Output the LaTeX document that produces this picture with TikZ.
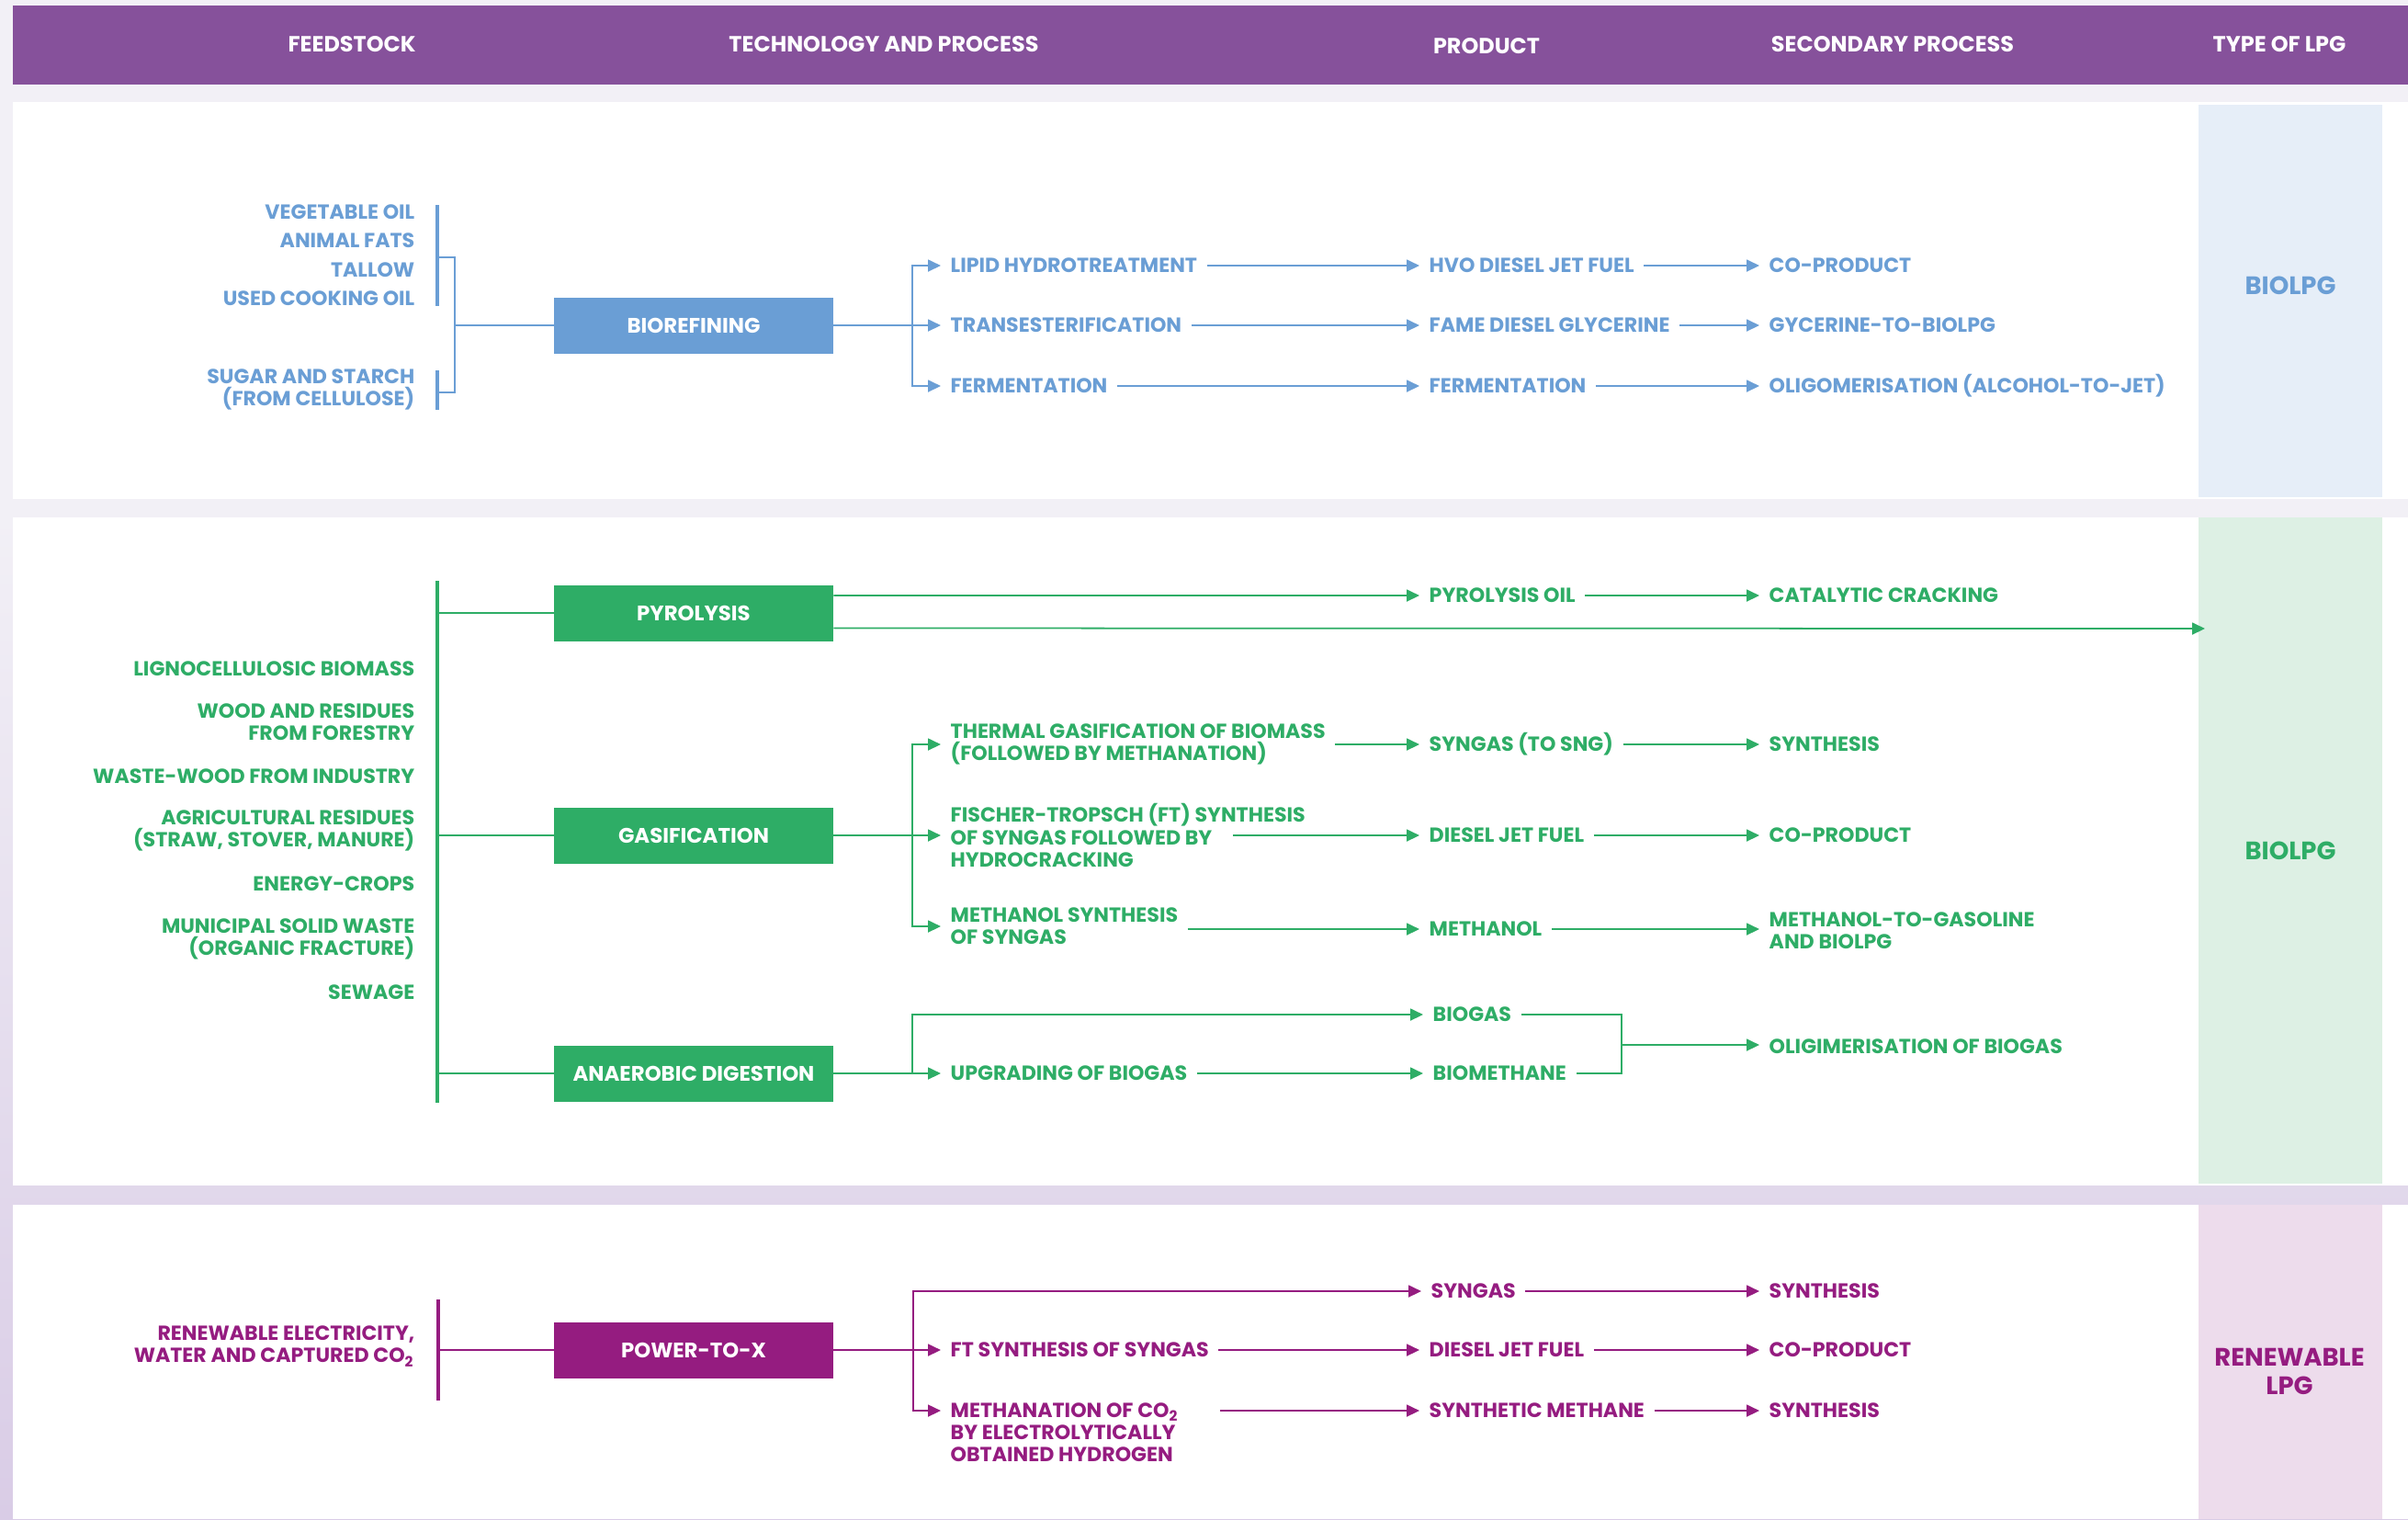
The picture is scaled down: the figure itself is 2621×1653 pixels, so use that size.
\documentclass[tikz,border=0pt]{standalone}
\usepackage{fontspec}
\setmainfont{Poppins}
\usetikzlibrary{arrows.meta}
\definecolor{hdrpurple}{HTML}{86519B}
\definecolor{bgtop}{HTML}{F2F0F6}
\definecolor{bgbot}{HTML}{D9CCE6}
\definecolor{cblue}{HTML}{6A9ED5}
\definecolor{cgreen}{HTML}{2EAD66}
\definecolor{cmag}{HTML}{951C80}
\definecolor{lblue}{HTML}{E6EEF8}
\definecolor{lgreen}{HTML}{DDF0E4}
\definecolor{lpink}{HTML}{EDDCEC}
\newcommand\lblfont{\fontsize{6.3}{6.85}\selectfont\bfseries}

\begin{document}
\begin{tikzpicture}[x=0.01cm,y=-0.01cm,
   hdr/.style={text=white,font=\fontsize{6.8}{7}\selectfont\bfseries},
   feed/.style={anchor=east,align=right,inner sep=0pt,font=\lblfont},
   lbl/.style={anchor=west,align=left,inner xsep=0.1cm,inner ysep=0pt,font=\lblfont},
   proc/.style={minimum width=3.03cm,minimum height=0.61cm,inner sep=0pt,text=white,
      font=\fontsize{6.5}{7}\selectfont\bfseries},
   lpg/.style={align=center,font=\fontsize{7.8}{8.8}\selectfont\bfseries},
   link/.style={line width=0.5pt},
   arr/.style={link,-{Triangle[length=0.14cm,width=0.13cm]}},
   bar/.style={line width=1.4pt}]
\useasboundingbox (0,0) rectangle (2621,1653);
\fill[bgtop] (0,0) rectangle (2621,561);
\shade[top color=bgtop,bottom color=bgbot] (0,560) rectangle (2621,1653);
\fill[hdrpurple] (14,6) rectangle (2621,92);
\fill[white] (14,111) rectangle (2621,543);
\fill[white] (14,563) rectangle (2621,1290);
\fill[white] (14,1311) rectangle (2621,1653);
\fill[lblue] (2393,114) rectangle (2593,541);
\fill[lgreen] (2393,563) rectangle (2593,1288);
\fill[lpink] (2393,1311) rectangle (2593,1653);

\node[hdr] (hfeed) at (383,48) {FEEDSTOCK};
\node[hdr] (htech) at (962,48) {TECHNOLOGY AND PROCESS};
\node[hdr] (hprod) at (1618,50) {PRODUCT};
\node[hdr] (hsec) at (2060,48) {SECONDARY PROCESS};
\node[hdr] (htype) at (2481,48) {TYPE OF LPG};

\begin{scope}[color=cblue]
	\node[feed] (veg) at (452,231) {VEGETABLE OIL};
	\node[feed] (fats) at (452,262) {ANIMAL FATS};
	\node[feed] (tallow) at (452,294) {TALLOW};
	\node[feed] (uco) at (452,325) {USED COOKING OIL};
	\node[feed] (sugar) at (452,424) {SUGAR AND STARCH\\(FROM CELLULOSE)};
	\draw[bar] (476,223) -- (476,333);
	\draw[bar] (476,403) -- (476,446);
	\coordinate (oilbr) at (476,280);
	\coordinate (sugbr) at (476,427);
	\coordinate (feedj) at (495,354);
	\node[proc,fill=cblue] (biorefining) at (755,354) {BIOREFINING};
	\draw[link] (oilbr) -| (feedj) |- (sugbr);
	\draw[link] (feedj) -- (biorefining);
	\coordinate (bioj) at (993,354);
	\draw[link] (biorefining) -- (bioj);
	\node[lbl] (lipid) at (1024,289) {LIPID HYDROTREATMENT};
	\node[lbl] (transest) at (1024,354) {TRANSESTERIFICATION};
	\node[lbl] (ferment) at (1024,420) {FERMENTATION};
	\draw[arr] (bioj) |- (lipid.west);
	\draw[arr] (bioj) -- (transest.west);
	\draw[arr] (bioj) |- (ferment.west);
	\node[lbl] (hvo) at (1545,289) {HVO DIESEL JET FUEL};
	\node[lbl] (fame) at (1545,354) {FAME DIESEL GLYCERINE};
	\node[lbl] (fermprod) at (1545,420) {FERMENTATION};
	\draw[arr] (lipid.east) -- (hvo.west);
	\draw[arr] (transest.east) -- (fame.west);
	\draw[arr] (ferment.east) -- (fermprod.west);
	\node[lbl] (coprod1) at (1915,289) {CO-PRODUCT};
	\node[lbl] (glyc) at (1915,354) {GYCERINE-TO-BIOLPG};
	\node[lbl] (atj) at (1915,420) {OLIGOMERISATION (ALCOHOL-TO-JET)};
	\draw[arr] (hvo.east) -- (coprod1.west);
	\draw[arr] (fame.east) -- (glyc.west);
	\draw[arr] (fermprod.east) -- (atj.west);
	\node[lpg] (lpgbio1) at (2493,311) {BIOLPG};
\end{scope}

\begin{scope}[color=cgreen]
	\node[feed] (ligno) at (452,728) {LIGNOCELLULOSIC BIOMASS};
	\node[feed] (wood) at (452,786) {WOOD AND RESIDUES\\FROM FORESTRY};
	\node[feed] (waste) at (452,845) {WASTE-WOOD FROM INDUSTRY};
	\node[feed] (agri) at (452,904) {AGRICULTURAL RESIDUES\\(STRAW, STOVER, MANURE)};
	\node[feed] (crops) at (452,962) {ENERGY-CROPS};
	\node[feed] (msw) at (452,1022) {MUNICIPAL SOLID WASTE\\(ORGANIC FRACTURE)};
	\node[feed] (sewage) at (452,1080) {SEWAGE};
	\coordinate (gbar) at (476,632);
	\draw[bar] (gbar) -- (476,1200);
	\node[proc,fill=cgreen] (pyrolysis) at (755,667) {PYROLYSIS};
	\node[proc,fill=cgreen] (gasification) at (755,909) {GASIFICATION};
	\node[proc,fill=cgreen] (digestion) at (755,1168) {ANAEROBIC DIGESTION};
	\draw[link] (gbar |- pyrolysis.west) -- (pyrolysis.west);
	\draw[link] (gbar |- gasification.west) -- (gasification.west);
	\draw[link] (gbar |- digestion.west) -- (digestion.west);
	\node[lbl] (pyroil) at (1545,648) {PYROLYSIS OIL};
	\node[lbl] (cracking) at (1915,648) {CATALYTIC CRACKING};
	\draw[arr] ([yshift=0.19cm]pyrolysis.east) -- (pyroil.west);
	\draw[arr] (pyroil.east) -- (cracking.west);
	\coordinate (pyroend) at (2400,684);
	\draw[arr] ([yshift=-0.165cm]pyrolysis.east) -- (pyroend);
	\coordinate (gasj) at (993,909);
	\draw[link] (gasification) -- (gasj);
	\node[lbl] (thermal) at (1024,810) {THERMAL GASIFICATION OF BIOMASS\\(FOLLOWED BY METHANATION)};
	\node[lbl] (fischer) at (1024,909) {FISCHER-TROPSCH (FT) SYNTHESIS\\OF SYNGAS FOLLOWED BY\\HYDROCRACKING};
	\node[lbl] (methsyn) at (1024,1008) {METHANOL SYNTHESIS\\OF SYNGAS};
	\draw[arr] (gasj) |- (thermal.west);
	\draw[arr] (gasj) -- (fischer.west);
	\draw[arr] (gasj) |- (methsyn.west);
	\node[lbl] (sng) at (1545,810) {SYNGAS (TO SNG)};
	\node[lbl] (djf1) at (1545,909) {DIESEL JET FUEL};
	\node[lbl] (methanol) at (1545,1011) {METHANOL};
	\coordinate (ftout) at (1342,909);
	\draw[arr] (thermal.east) -- (sng.west);
	\draw[arr] (ftout) -- (djf1.west);
	\draw[arr] (methsyn.east |- methanol) -- (methanol.west);
	\node[lbl] (synth1) at (1915,810) {SYNTHESIS};
	\node[lbl] (coprod2) at (1915,909) {CO-PRODUCT};
	\node[lbl] (mtg) at (1915,1013) {METHANOL-TO-GASOLINE\\AND BIOLPG};
	\draw[arr] (sng.east) -- (synth1.west);
	\draw[arr] (djf1.east) -- (coprod2.west);
	\draw[arr] (methanol.east) -- (mtg.west |- methanol);
	\coordinate (adj) at (993,1168);
	\draw[link] (digestion) -- (adj);
	\node[lbl] (biogas) at (1549,1104) {BIOGAS};
	\node[lbl] (upgrading) at (1024,1168) {UPGRADING OF BIOGAS};
	\node[lbl] (biomethane) at (1549,1168) {BIOMETHANE};
	\draw[arr] (adj) |- (biogas.west);
	\draw[arr] (adj) -- (upgrading.west);
	\draw[arr] (upgrading.east) -- (biomethane.west);
	\coordinate (gasmerge) at (1765,1137);
	\draw[link] (biogas.east) -| (gasmerge) |- (biomethane.east);
	\node[lbl] (oligo) at (1915,1139) {OLIGIMERISATION OF BIOGAS};
	\draw[arr] (gasmerge) -- (oligo.west |- gasmerge);
	\node[lpg] (lpgbio2) at (2493,926) {BIOLPG};
\end{scope}

\begin{scope}[color=cmag]
	\node[feed] (elec) at (452,1465) {RENEWABLE ELECTRICITY,\\WATER AND CAPTURED CO\textsubscript{2}};
	\coordinate (mbar) at (477,1414);
	\draw[bar] (mbar) -- (477,1524);
	\node[proc,fill=cmag] (ptx) at (755,1469) {POWER-TO-X};
	\draw[link] (mbar |- ptx.west) -- (ptx.west);
	\coordinate (ptxj) at (994,1469);
	\draw[link] (ptx) -- (ptxj);
	\node[lbl] (syngas) at (1547,1405) {SYNGAS};
	\node[lbl] (ftsyn) at (1024,1469) {FT SYNTHESIS OF SYNGAS};
	\node[lbl,anchor=north west] (methanation) at (1024,1526) {METHANATION OF CO\textsubscript{2}\\BY ELECTROLYTICALLY\\OBTAINED HYDROGEN};
	\draw[arr] (ptxj) |- (syngas.west);
	\draw[arr] (ptxj) -- (ftsyn.west);
	\draw[arr] (ptxj) |- ([yshift=-0.09cm]methanation.north west);
	\node[lbl] (djf2) at (1545,1469) {DIESEL JET FUEL};
	\node[lbl] (synmeth) at (1545,1535) {SYNTHETIC METHANE};
	\coordinate (methout) at (1328,1535);
	\draw[arr] (ftsyn.east) -- (djf2.west);
	\draw[arr] (methout) -- (synmeth.west);
	\node[lbl] (synth2) at (1915,1405) {SYNTHESIS};
	\node[lbl] (coprod3) at (1915,1469) {CO-PRODUCT};
	\node[lbl] (synth3) at (1915,1535) {SYNTHESIS};
	\draw[arr] (syngas.east) -- (synth2.west);
	\draw[arr] (djf2.east) -- (coprod3.west);
	\draw[arr] (synmeth.east) -- (synth3.west);
	\node[lpg] (lpgren) at (2492,1492) {RENEWABLE\\LPG};
\end{scope}
\end{tikzpicture}
\end{document}
